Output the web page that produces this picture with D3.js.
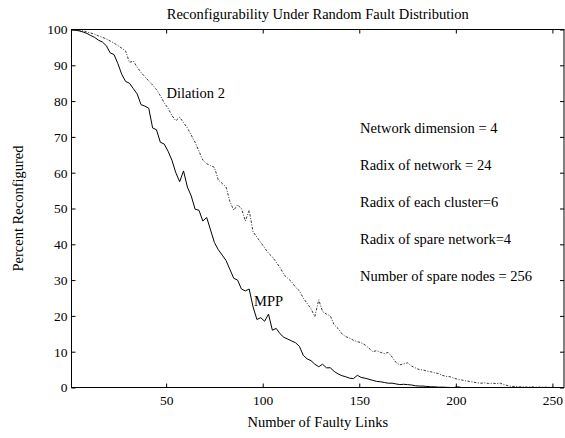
<!DOCTYPE html>
<html>
<head>
<meta charset="utf-8">
<script src="https://cdn.jsdelivr.net/npm/d3@7/dist/d3.min.js"></script>
<style>
  html, body { margin: 0; padding: 0; background: #fff; }
  svg { display: block; }
  svg text { font-family: "Liberation Serif", "Times New Roman", serif; fill: #000; }
</style>
</head>
<body>
<svg id="chart" width="565" height="438" font-family="Liberation Serif"></svg>
<script>
// ---- data ----
const xValues = d3.range(1, 256, 2); // 1,3,...,255
const mppValues = [
  100, 99.8, 99.6, 99.3, 98.9, 98.3, 97.8, 97.0, 96.5, 95.5,
  93.5, 93.0, 90.5, 87.5, 85.5, 85.0, 83.5, 82.0, 79.0, 78.6,
  78.0, 72.5, 72.0, 68.5, 68.0, 66.0, 63.5, 60.0, 57.5, 60.5,
  56.0, 53.5, 49.8, 49.5, 46.5, 47.5, 44.0, 40.5, 38.5, 37.0,
  35.5, 33.0, 30.5, 30.0, 27.5, 27.0, 27.5, 22.5, 19.0, 19.5,
  18.5, 20.5, 16.0, 16.5, 15.0, 14.0, 13.5, 13.0, 12.5, 11.5,
  9.0, 8.0, 7.5, 6.5, 5.8, 6.5, 5.5, 5.5, 4.5, 3.8,
  3.3, 3.0, 2.6, 2.5, 3.4, 2.8, 2.6, 2.3, 2.0, 1.7,
  1.6, 1.4, 1.2, 1.2, 1.0, 0.8, 0.9, 0.8, 0.7, 0.5,
  0.4, 0.4, 0.3, 0.2, 0.2, 0.1, 0.1, 0.05, 0, 0,
  0.2, 0, 0, 0, 0, 0, 0, 0, 0, 0,
  0, 0, 0, 0, 0, 0, 0, 0, 0, 0,
  0, 0, 0, 0, 0, 0, 0, 0
];
const dilationValues = [
  100, 99.9, 99.8, 99.6, 99.3, 99.0, 98.7, 98.2, 97.8, 97.4,
  96.8, 96.2, 95.5, 94.8, 94.0, 90.8, 91.2, 89.5, 88.0, 86.8,
  85.6, 84.5, 83.2, 81.5, 79.5, 78.0, 76.0, 74.5, 75.5, 74.0,
  72.5, 70.5, 68.5, 66.0, 63.5, 62.5, 62.0, 61.5, 58.0, 57.0,
  56.0, 52.0, 49.5, 51.0, 50.0, 46.5, 49.5, 43.5, 42.0, 40.5,
  39.0, 37.5, 36.5, 35.0, 33.5, 31.5, 30.5, 29.5, 28.0, 27.0,
  25.0, 23.5, 22.0, 19.8, 24.5, 21.2, 20.5, 20.0, 17.5, 16.5,
  15.0, 14.2, 13.8, 13.2, 12.8, 12.5, 11.9, 11.0, 10.0, 10.3,
  9.8, 9.5, 9.8, 8.5, 7.0, 6.3, 6.6, 6.9, 6.0, 5.5,
  5.0, 4.9, 4.6, 4.4, 4.1, 3.9, 3.4, 3.1, 3.0, 2.6,
  2.3, 2.1, 1.9, 1.7, 1.5, 1.3, 1.2, 1.3, 1.1, 1.2,
  1.1, 1.2, 0.8, 0.5, 0.3, 0.3, 0.2, 0.2, 0.1, 0.2,
  0.1, 0.1, 0.1, 0.1, 0.05, 0.05, 0, 0
];
const xTicks = [50, 100, 150, 200, 250];
const yTicks = [0, 10, 20, 30, 40, 50, 60, 70, 80, 90, 100];
const seriesNames = ["MPP", "Dilation 2"];
const notes = [
  "Network dimension = 4",
  "Radix of network = 24",
  "Radix of each cluster=6",
  "Radix of spare network=4",
  "Number of spare nodes = 256"
];
const titleText = "Reconfigurability Under Random Fault Distribution";
const xTitle = "Number of Faulty Links";
const yTitle = "Percent Reconfigured";

// ---- layout ----
const L = 71.5, R = 564, T = 29.5, B = 387.5;
const FONT = '"Liberation Serif", "Times New Roman", serif';
const svg = d3.select("#chart");
const x = d3.scaleLinear().domain([1, 256]).range([L, R]);
const y = d3.scaleLinear().domain([0, 100]).range([B, T]);

// lines
const line = d3.line().x((d, i) => x(xValues[i])).y(d => y(d));
svg.append("path").datum(dilationValues)
  .attr("d", line).attr("fill", "none")
  .attr("stroke", "#222").attr("stroke-width", 0.9)
  .attr("stroke-dasharray", "2.5,1.5,1,1.5");
svg.append("path").datum(mppValues)
  .attr("d", line).attr("fill", "none")
  .attr("stroke", "#000").attr("stroke-width", 1);

// box
svg.append("rect").attr("x", L).attr("y", T).attr("width", R - L).attr("height", B - T)
  .attr("fill", "none").attr("stroke", "#000").attr("stroke-width", 1);

// axes with inward ticks
const fs = "13.5px";
const xb = svg.append("g").attr("transform", `translate(0,${B})`)
  .call(d3.axisBottom(x).tickValues(xTicks).tickSizeInner(-4).tickSizeOuter(0).tickPadding(8));
const xt = svg.append("g").attr("transform", `translate(0,${T})`)
  .call(d3.axisTop(x).tickValues(xTicks).tickSizeInner(-4).tickSizeOuter(0).tickFormat(""));
const yl = svg.append("g").attr("transform", `translate(${L},0)`)
  .call(d3.axisLeft(y).tickValues(yTicks).tickSizeInner(-4).tickSizeOuter(0).tickPadding(4));
const yr = svg.append("g").attr("transform", `translate(${R},0)`)
  .call(d3.axisRight(y).tickValues(yTicks).tickSizeInner(-4).tickSizeOuter(0).tickFormat(""));
[xb, xt, yl, yr].forEach(g => {
  g.attr("font-family", null);
  g.select(".domain").remove();
  g.selectAll("text").style("font-size", fs).style("font-family", FONT);
  g.selectAll("line").attr("stroke", "#000");
});

// titles
svg.append("text").attr("x", (L + R) / 2).attr("y", 19).attr("text-anchor", "middle")
  .style("font-size", "14.5px").style("font-family", FONT).text(titleText);
svg.append("text").attr("x", (L + R) / 2).attr("y", 427).attr("text-anchor", "middle")
  .style("font-size", "14.5px").style("font-family", FONT).text(xTitle);
svg.append("text").attr("transform", `translate(23,${(T + B) / 2}) rotate(-90)`)
  .attr("text-anchor", "middle").style("font-size", "14.5px").style("font-family", FONT).text(yTitle);

// series labels
svg.append("text").attr("x", 166.5).attr("y", 98).style("font-size", "14.5px").style("font-family", FONT).text(seriesNames[1]);
svg.append("text").attr("x", 254).attr("y", 306).style("font-size", "14.5px").style("font-family", FONT).text(seriesNames[0]);

// notes
svg.selectAll("text.note").data(notes).enter().append("text")
  .attr("class", "note").attr("x", 360).attr("y", (d, i) => 133 + i * 37)
  .style("font-size", "14.5px").style("font-family", FONT).text(d => d);
</script>
</body>
</html>
